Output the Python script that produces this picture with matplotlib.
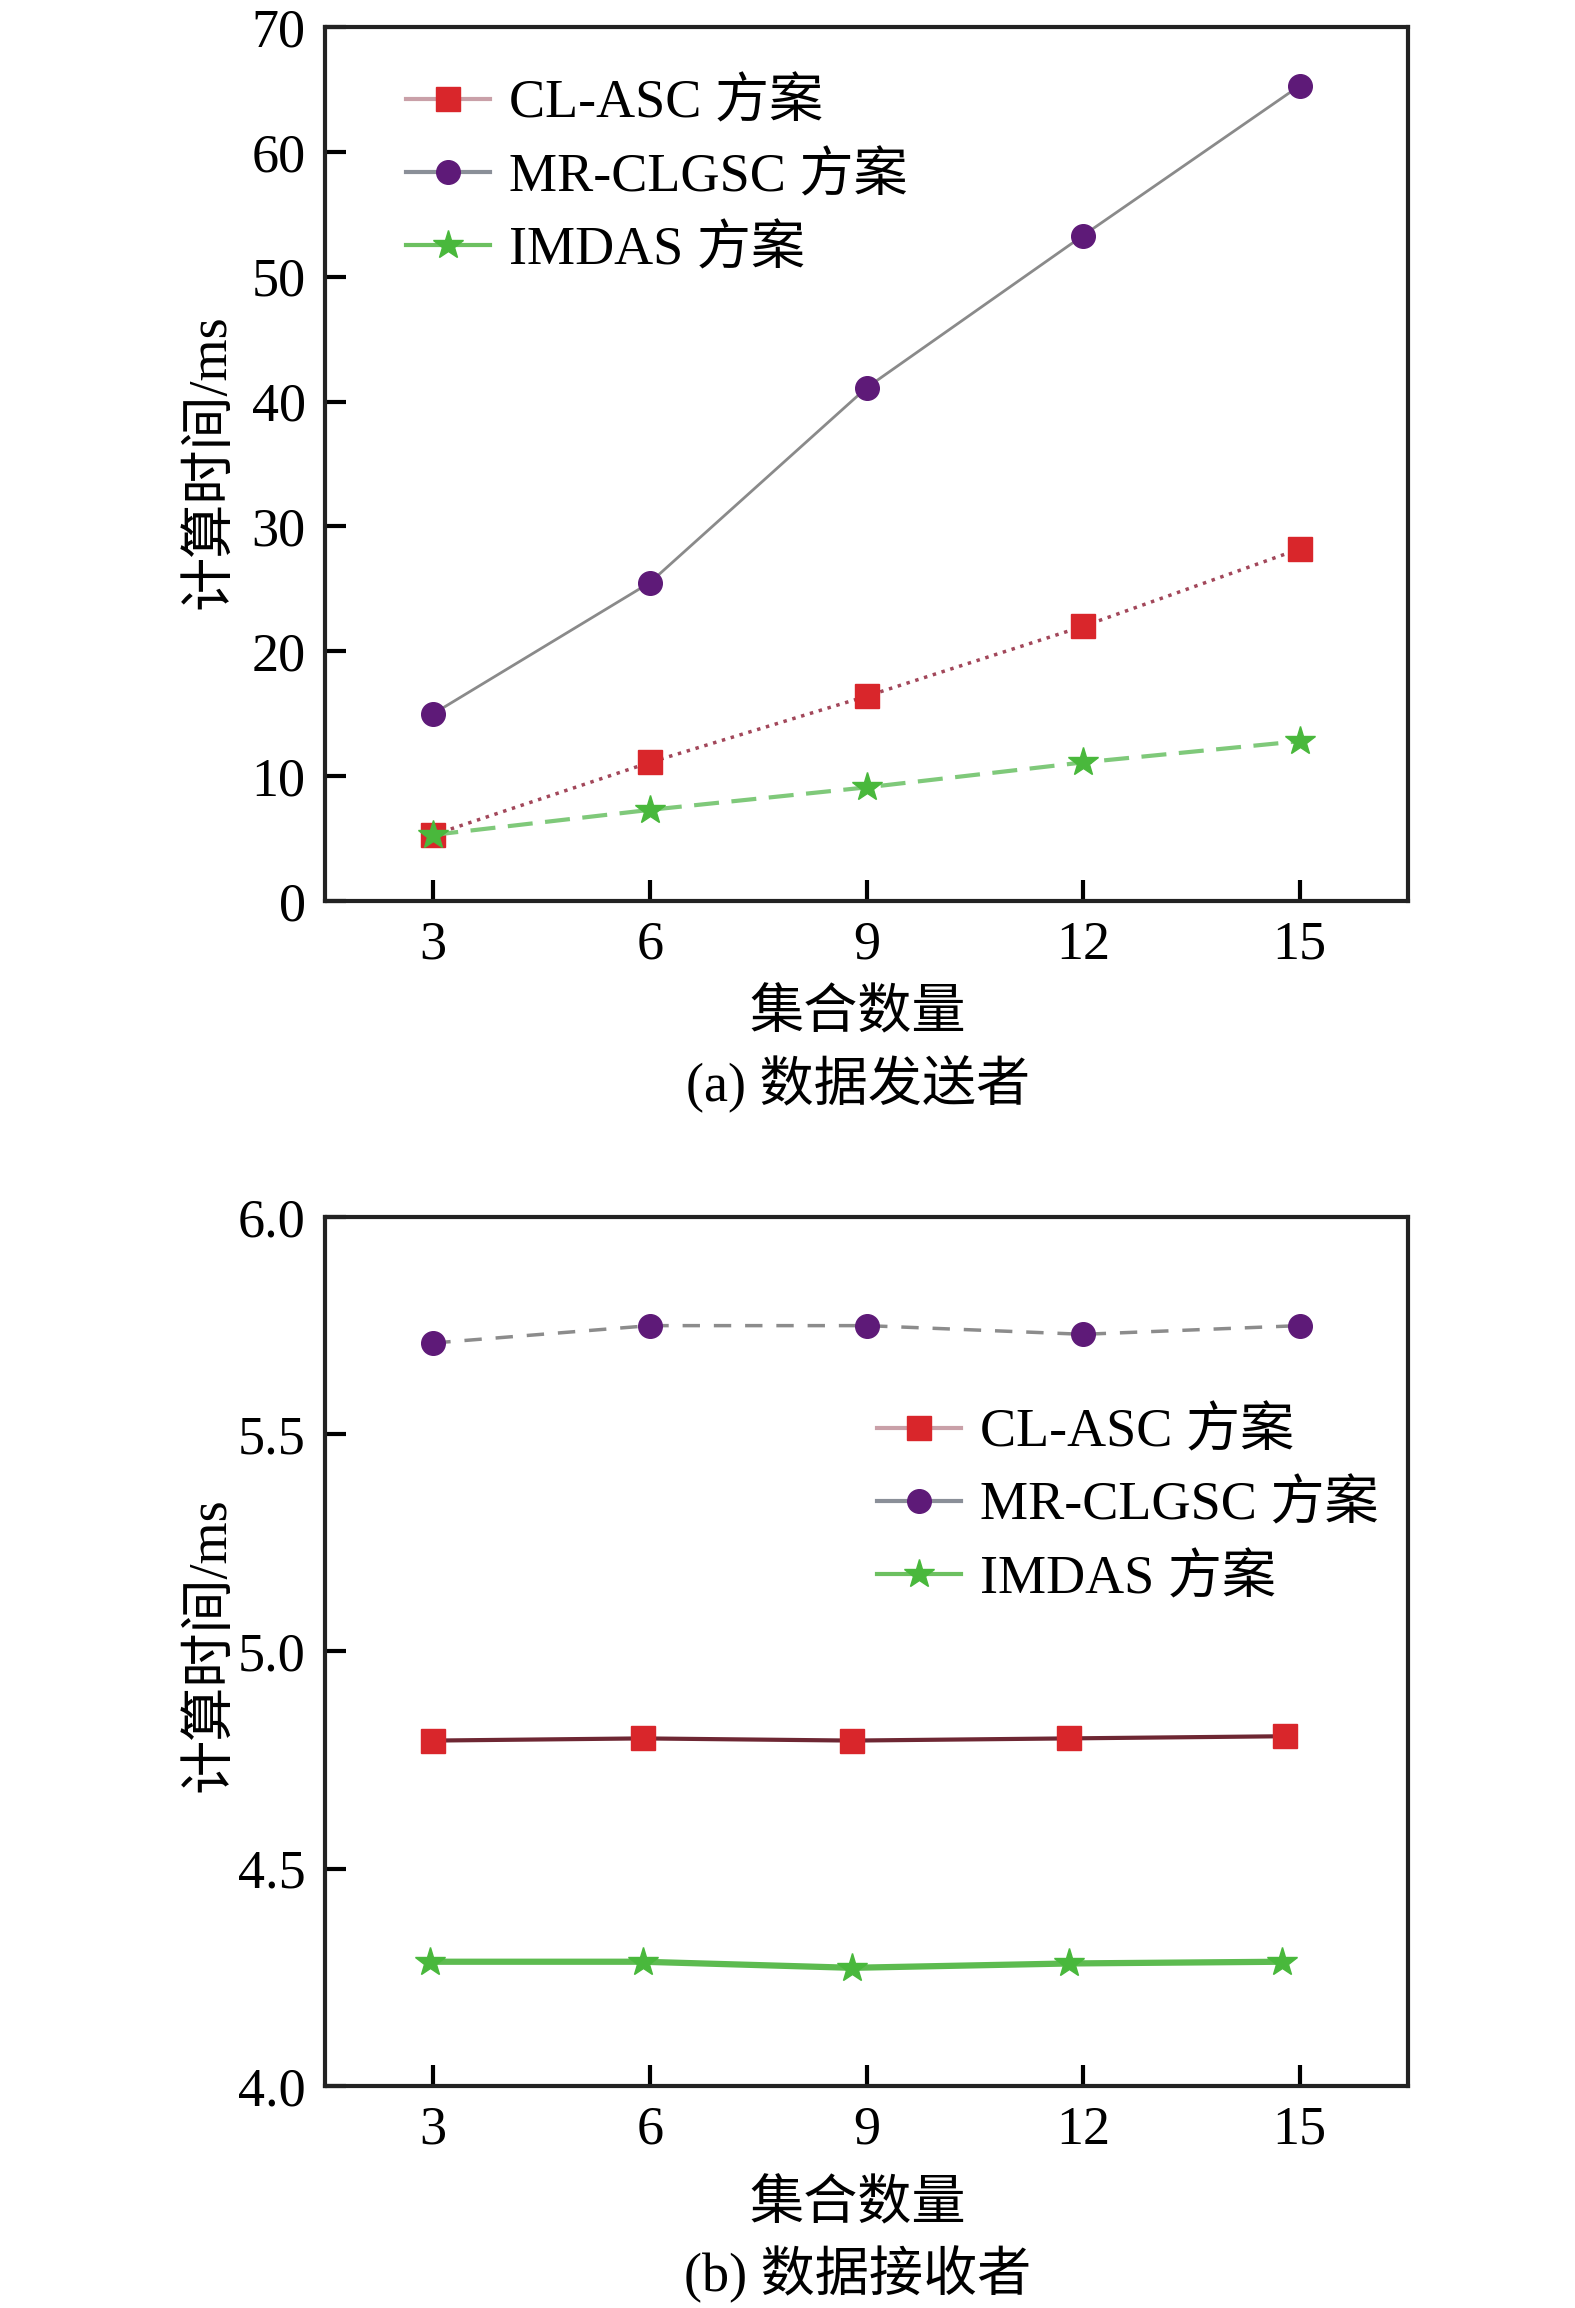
import matplotlib
matplotlib.use('Agg')
from matplotlib import pyplot as plt

plt.rcParams['font.family'] = ['Liberation Serif', 'Noto Sans CJK SC']

# panel (a): data sender
x_a = [3, 6, 9, 12, 15]
cl_asc_a = [5.3, 11.1, 16.4, 22.0, 28.2]
mr_clgsc_a = [15.0, 25.5, 41.1, 53.3, 65.3]
imdas_a = [5.3, 7.3, 9.1, 11.1, 12.8]

# panel (b): data receiver (points drift a little left of the ticks in the source)
x_b_cl = [3, 5.9, 8.8, 11.8, 14.8]
x_b_mr = [3, 6, 9, 12, 15]
x_b_im = [2.95, 5.9, 8.8, 11.8, 14.75]
cl_asc_b = [4.795, 4.80, 4.795, 4.80, 4.805]
mr_clgsc_b = [5.71, 5.75, 5.75, 5.73, 5.75]
imdas_b = [4.286, 4.286, 4.272, 4.282, 4.286]

xticks = [3, 6, 9, 12, 15]
labels = ['CL-ASC 方案', 'MR-CLGSC 方案', 'IMDAS 方案']

FS = 39
W, H = 1575, 2308
fig = plt.figure(figsize=(W/100, H/100), dpi=100)

red, purple, green = '#d9262b', '#5e1a78', '#49b83c'
MS = 17


def style_axes(ax):
    for s in ax.spines.values():
        s.set_linewidth(3)
        s.set_color('#222222')
    ax.tick_params(direction='in', length=15, width=3, labelsize=FS, pad=14,
                   top=False, right=False)
    ax.set_xticks(xticks)
    ax.set_xlim(1.5, 16.5)


def legend_handles(ax):
    h1, = ax.plot([], [], color='#c9a0a8', lw=3, marker='s', ms=MS, mfc=red, mec=red)
    h2, = ax.plot([], [], color='#8a8f98', lw=3, marker='o', ms=MS, mfc=purple, mec=purple)
    h3, = ax.plot([], [], color='#6cc060', lw=3, marker='*', ms=MS+5, mfc=green, mec=green)
    return [h1, h2, h3]


# ---- (a)
ax0 = fig.add_axes([325/W, 1 - 901/H, 1083/W, 874/H])
ax0.plot(x_a, mr_clgsc_a, color='#8a8a8a', lw=2, marker='o', ms=MS, mfc=purple, mec=purple)
ax0.plot(x_a, cl_asc_a, color='#a2475a', lw=2.5, ls=':', marker='s', ms=MS, mfc=red, mec=red)
ax0.plot(x_a, imdas_a, color='#7fc97a', lw=3, ls=(0, (6, 3)), marker='*', ms=MS+5,
         mfc=green, mec=green)
ax0.set_ylim(0, 70)
ax0.set_yticks(range(0, 71, 10))
style_axes(ax0)
ax0.legend(legend_handles(ax0), labels, loc='upper left', bbox_to_anchor=(0.055, 0.965),
           frameon=False, fontsize=FS, handlelength=1.55, handletextpad=0.35,
           labelspacing=0.42, borderaxespad=0)

# ---- (b)
ax1 = fig.add_axes([325/W, 1 - 2086/H, 1083/W, 869/H])
ax1.plot(x_b_mr, mr_clgsc_b, color='#8c8c8c', lw=2.5, ls=(0, (5, 4)), marker='o', ms=MS,
         mfc=purple, mec=purple)
ax1.plot(x_b_cl, cl_asc_b, color='#6e2733', lw=3, marker='s', ms=MS, mfc=red, mec=red)
ax1.plot(x_b_im, imdas_b, color='#5dbb50', lw=4.5, marker='*', ms=MS+5, mfc=green, mec=green)
ax1.set_ylim(4.0, 6.0)
ax1.set_yticks([4.0, 4.5, 5.0, 5.5, 6.0])
ax1.set_yticklabels(['4.0', '4.5', '5.0', '5.5', '6.0'])
style_axes(ax1)
ax1.legend(legend_handles(ax1), labels, loc='upper left', bbox_to_anchor=(0.49, 0.805),
           frameon=False, fontsize=FS, handlelength=1.55, handletextpad=0.35,
           labelspacing=0.42, borderaxespad=0)

# axis titles and captions
fig.text(211/W, 1 - 462/H, '计算时间/ms', rotation=90, ha='center', va='center', fontsize=FS)
fig.text(211/W, 1 - 1645/H, '计算时间/ms', rotation=90, ha='center', va='center', fontsize=FS)
fig.text(858/W, 1 - 1015/H, '集合数量', ha='center', va='center', fontsize=FS)
fig.text(858/W, 1 - 1084/H, '(a) 数据发送者', ha='center', va='center', fontsize=FS)
fig.text(858/W, 1 - 2206/H, '集合数量', ha='center', va='center', fontsize=FS)
fig.text(858/W, 1 - 2274/H, '(b) 数据接收者', ha='center', va='center', fontsize=FS)

fig.savefig('out.png', dpi=100)
